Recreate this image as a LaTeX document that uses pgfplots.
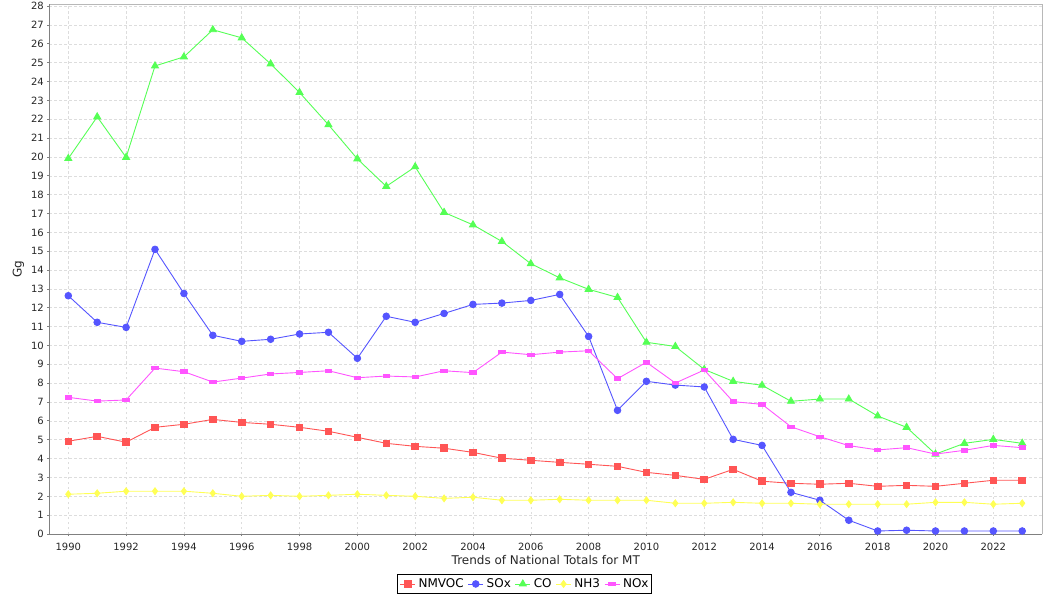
\documentclass[border=0pt]{standalone}
\usepackage{fontspec}
\setmainfont{DejaVu Sans}
\usepackage{pgfplots}
\usepackage{pgfplotstable}
\pgfplotsset{compat=1.18}
\definecolor{cNMVOC}{HTML}{FF5555}
\definecolor{cSOx}{HTML}{5555FF}
\definecolor{cCO}{HTML}{55FF55}
\definecolor{cNH3}{HTML}{FFFF55}
\definecolor{cNOx}{HTML}{FF55FF}
\definecolor{gridc}{HTML}{DDDDDD}
\definecolor{axisc}{HTML}{808080}
\definecolor{framec}{HTML}{B8B8B8}

\pgfplotstableread{
year nmvoc sox co nh3 nox
1990 4.92 12.64 19.92 2.11 7.25
1991 5.18 11.23 22.13 2.16 7.05
1992 4.87 10.96 19.98 2.27 7.11
1993 5.66 15.10 24.83 2.27 8.80
1994 5.82 12.76 25.31 2.27 8.61
1995 6.08 10.54 26.75 2.16 8.06
1996 5.92 10.22 26.32 2.00 8.27
1997 5.82 10.33 24.94 2.05 8.49
1998 5.66 10.61 23.42 2.00 8.57
1999 5.45 10.70 21.71 2.05 8.66
2000 5.13 9.32 19.90 2.11 8.29
2001 4.81 11.55 18.44 2.05 8.38
2002 4.65 11.23 19.48 2.00 8.33
2003 4.55 11.70 17.06 1.89 8.66
2004 4.33 12.18 16.40 1.95 8.56
2005 4.02 12.25 15.52 1.79 9.65
2006 3.91 12.39 14.34 1.79 9.51
2007 3.80 12.71 13.59 1.84 9.65
2008 3.70 10.48 12.98 1.79 9.72
2009 3.59 6.56 12.55 1.79 8.24
2010 3.27 8.10 10.17 1.79 9.11
2011 3.11 7.90 9.95 1.63 8.01
2012 2.90 7.80 8.73 1.63 8.70
2013 3.43 5.02 8.10 1.68 7.02
2014 2.80 4.70 7.89 1.63 6.88
2015 2.69 2.21 7.04 1.63 5.69
2016 2.64 1.79 7.16 1.58 5.16
2017 2.69 0.73 7.16 1.58 4.69
2018 2.53 0.16 6.26 1.58 4.46
2019 2.58 0.20 5.66 1.58 4.58
2020 2.53 0.16 4.24 1.68 4.24
2021 2.69 0.16 4.81 1.68 4.44
2022 2.85 0.16 5.02 1.58 4.70
2023 2.85 0.16 4.81 1.63 4.58
}\datatable

\begin{document}
\begin{tikzpicture}
\useasboundingbox (-49.3pt,-66pt) rectangle (1000.7pt,534pt);
\begin{axis}[
  at={(0pt,0pt)}, anchor=south west,
  scale only axis, width=993pt, height=529.7pt,
  xmin=1989.343, xmax=2023.695, ymin=0, ymax=28.1,
  xtick={1990,1992,...,2022}, ytick={0,1,...,28},
  /pgf/number format/assume math mode=true,
  xticklabel style={/pgf/number format/1000 sep=, font=\fontsize{10}{12}\selectfont, text=black!85, yshift=-3.5pt},
  yticklabel style={font=\fontsize{10}{12}\selectfont, text=black!85},
  grid=major,
  major grid style={dash pattern=on 2.5pt off 2.5pt, color=gridc, line width=0.6pt},
  axis line style={draw=none},
  tick align=outside, xtick pos=left, ytick pos=left,
  major tick length=2pt,
  tick style={axisc, line width=0.8pt},
  xlabel={Trends of National Totals for MT}, ylabel={Gg},
  xlabel style={yshift=2pt},
  label style={font=\fontsize{12}{14}\selectfont, text=black!85},
  clip=false,
  legend columns=-1,
  legend style={at={(0.4787,-0.0761)}, anchor=north, draw=black, line width=0.9pt,
    font=\fontsize{12}{14}\selectfont, inner xsep=2pt, inner ysep=2pt,
    nodes={inner xsep=1pt},
    /tikz/every odd column/.append style={column sep=2pt},
    /tikz/every even column/.append style={column sep=3pt}},
  legend image code/.code={\draw[mark repeat=2,mark phase=2,#1] plot coordinates {(0pt,0pt) (7.5pt,0pt) (15pt,0pt)};},
  every axis plot/.append style={line width=0.9pt},
]
\addplot[color=cNMVOC, mark=square*, mark size=3.3pt, mark options={draw=none, fill=cNMVOC}] table[x=year, y=nmvoc] {\datatable};
\addlegendentry{NMVOC}
\addplot[color=cSOx, mark=*, mark size=3.3pt, mark options={draw=none, fill=cSOx}] table[x=year, y=sox] {\datatable};
\addlegendentry{SOx}
\addplot[color=cCO, mark=triangle*, mark size=4pt, mark options={draw=none, fill=cCO}] table[x=year, y=co] {\datatable};
\addlegendentry{CO}
\addplot[color=cNH3, mark=diamond*, mark size=3.4pt, mark options={draw=none, fill=cNH3}] table[x=year, y=nh3] {\datatable};
\addlegendentry{NH3}
\addplot[color=cNOx, mark=square*, mark size=3.2pt, mark options={draw=none, fill=cNOx, yscale=0.55}] table[x=year, y=nox] {\datatable};
\addlegendentry{NOx}
\draw[framec, line width=0.9pt] (rel axis cs:0,1) -- (rel axis cs:1,1) -- (rel axis cs:1,0);
\draw[axisc, line width=0.9pt] (rel axis cs:0,1) -- (rel axis cs:0,0) -- (rel axis cs:1,0);
\end{axis}
\end{tikzpicture}
\end{document}
